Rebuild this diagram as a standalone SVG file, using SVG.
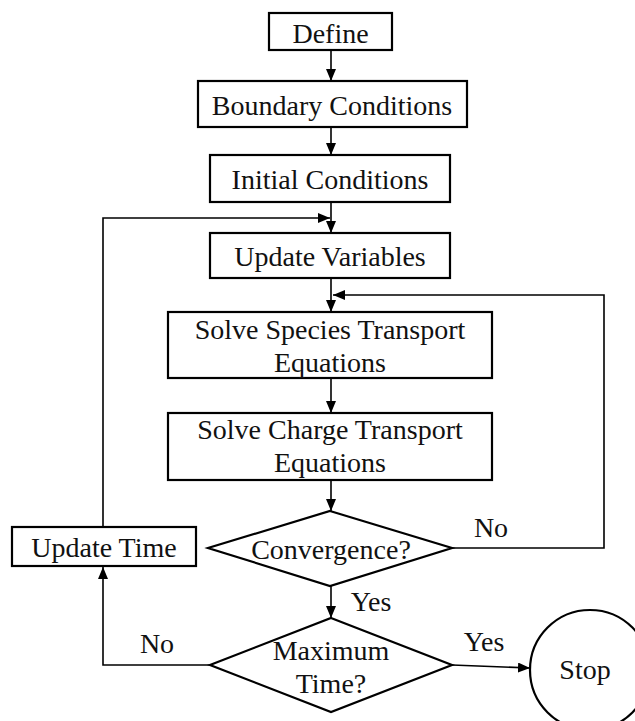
<svg xmlns="http://www.w3.org/2000/svg" width="635" height="721" viewBox="0 0 635 721">
<style>
.box{fill:#fff;stroke:#000;stroke-width:2.2}
.t{font-family:"Liberation Serif","Times New Roman",serif;font-size:28px;fill:#111;text-anchor:middle}
.c{fill:none;stroke:#000;stroke-width:1.6}
</style>
<defs>
<marker id="ah" viewBox="0 0 12 10" refX="12" refY="5" markerWidth="12" markerHeight="10" markerUnits="userSpaceOnUse" orient="auto">
<path d="M0,0 L12,5 L0,10 Z" fill="#000"/>
</marker>
</defs>
<rect width="635" height="721" fill="#fff"/>
<g id="connectors">
<line class="c" x1="331" y1="50" x2="331" y2="81" marker-end="url(#ah)"/>
<line class="c" x1="331" y1="127" x2="331" y2="155" marker-end="url(#ah)"/>
<line class="c" x1="331" y1="202" x2="331" y2="233" marker-end="url(#ah)"/>
<polyline class="c" points="103,527 103,218 330,218" marker-end="url(#ah)"/>
<line class="c" x1="331" y1="278" x2="331" y2="312" marker-end="url(#ah)"/>
<polyline class="c" points="452,548 604,548 604,295 333,295" marker-end="url(#ah)"/>
<line class="c" x1="331" y1="378" x2="331" y2="413" marker-end="url(#ah)"/>
<line class="c" x1="331" y1="480" x2="331" y2="511" marker-end="url(#ah)"/>
<line class="c" x1="331" y1="586" x2="331" y2="618" marker-end="url(#ah)"/>
<polyline class="c" points="210,665 103,665 103,567" marker-end="url(#ah)"/>
<line class="c" x1="452" y1="665" x2="530" y2="668" marker-end="url(#ah)"/>
<text class="t" x="491" y="537">No</text>
<text class="t" x="371" y="611">Yes</text>
<text class="t" x="157" y="653">No</text>
<text class="t" x="484" y="651">Yes</text>
</g>
<g id="define"><rect class="box" x="269" y="13" width="123" height="37"/><text class="t" x="330.5" y="43">Define</text></g>
<g id="boundary"><rect class="box" x="198" y="81" width="269" height="46"/><text class="t" x="332" y="115">Boundary Conditions</text></g>
<g id="initial"><rect class="box" x="210" y="155" width="240" height="47"/><text class="t" x="330" y="189">Initial Conditions</text></g>
<g id="update-variables"><rect class="box" x="210" y="233" width="240" height="45"/><text class="t" x="330" y="266">Update Variables</text></g>
<g id="species"><rect class="box" x="168" y="312" width="324" height="66"/><text class="t" x="330" y="339">Solve Species Transport</text><text class="t" x="330" y="372">Equations</text></g>
<g id="charge"><rect class="box" x="168" y="413" width="324" height="67"/><text class="t" x="330" y="439">Solve Charge Transport</text><text class="t" x="330" y="472">Equations</text></g>
<g id="convergence"><polygon class="box" points="330,511 452,548 330,586 208,548"/><text class="t" x="331" y="559">Convergence?</text></g>
<g id="update-time"><rect class="box" x="12" y="527" width="184" height="39"/><text class="t" x="104" y="557">Update Time</text></g>
<g id="maximum-time"><polygon class="box" points="331,618 452,665 331,712 210,665"/><text class="t" x="331" y="660">Maximum</text><text class="t" x="331" y="693">Time?</text></g>
<g id="stop"><ellipse class="box" cx="590" cy="670" rx="60" ry="60"/><text class="t" x="585" y="679">Stop</text></g>
</svg>
